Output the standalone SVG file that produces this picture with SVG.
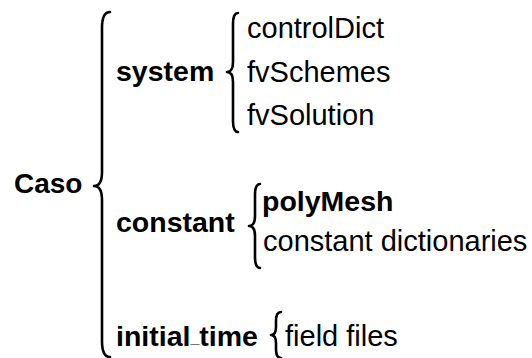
<svg xmlns="http://www.w3.org/2000/svg" width="532" height="358" viewBox="0 0 532 358">
<style>
text{font-family:"Liberation Sans",Arial,Helvetica,sans-serif;font-size:29px;fill:#000}
.b{font-weight:bold;font-size:28.5px}
.brace{fill:none;stroke:#000;stroke-width:2.6;stroke-linecap:round;stroke-linejoin:round}
</style>
<rect width="532" height="358" fill="#fff"/>
<g id="connectors">
<path class="brace" d="M110,12 Q102,12 102,28 L102,172 Q102,186 94,186 Q102,186 102,200 L102,341 Q102,357 110,357"/>
<path class="brace" d="M238,13 Q233,13 233,24 L233,62 Q233,72 227,72 Q233,72 233,82 L233,121 Q233,132 238,132"/>
<path class="brace" d="M260,184 Q255,184 255,195 L255,216 Q255,226 249,226 Q255,226 255,236 L255,257 Q255,268 260,268"/>
<path class="brace" d="M281,312 Q276,312 276,321 L276,327 Q276,335 271,335 Q276,335 276,343 L276,349 Q276,358 281,358"/>
</g>
<g id="caso"><text class="b" x="14" y="193" style="font-size:28px">Caso</text></g>
<g id="system"><text class="b" x="116" y="81">system</text></g>
<g id="controlDict"><text x="247" y="38">controlDict</text></g>
<g id="fvSchemes"><text x="247" y="82">fvSchemes</text></g>
<g id="fvSolution"><text x="247" y="125">fvSolution</text></g>
<g id="constant"><text class="b" x="116" y="232">constant</text></g>
<g id="polyMesh"><text class="b" x="262" y="211">polyMesh</text></g>
<g id="constantDictionaries"><text x="263" y="251">constant dictionaries</text></g>
<g id="initial_time"><text class="b" x="116" y="346">initial<tspan dy="-3" style="font-size:16px">_</tspan><tspan dy="3">time</tspan></text></g>
<g id="fieldFiles"><text x="285" y="346">field files</text></g>
</svg>
